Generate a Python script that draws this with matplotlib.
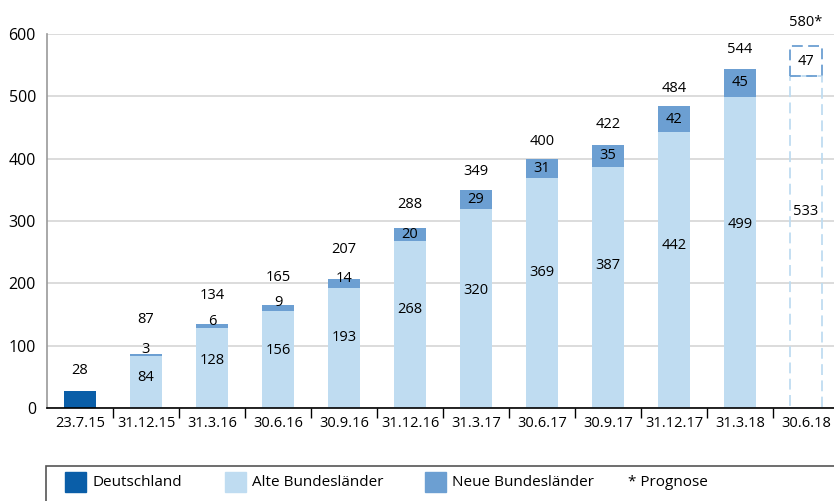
import numpy as np
import matplotlib
matplotlib.use("Agg")
import matplotlib.pyplot as plt
from matplotlib.patches import Rectangle

plt.rcParams["font.family"] = ["Open Sans", "DejaVu Sans"]

# Daten
stichtage = ["23.7.15", "31.12.15", "31.3.16", "30.6.16", "30.9.16", "31.12.16",
             "31.3.17", "30.6.17", "30.9.17", "31.12.17", "31.3.18", "30.6.18"]
deutschland = [28, 0, 0, 0, 0, 0, 0, 0, 0, 0, 0, 0]
alte_laender = [0, 84, 128, 156, 193, 268, 320, 369, 387, 442, 499, 533]
neue_laender = [0, 3, 6, 9, 14, 20, 29, 31, 35, 42, 45, 47]
gesamt = [28, 87, 134, 165, 207, 288, 349, 400, 422, 484, 544, 580]
prognose = [False] * 11 + [True]
legende = ["Deutschland", "Alte Bundesländer", "Neue Bundesländer", "* Prognose"]
yticks = [0, 100, 200, 300, 400, 500, 600]

# Farben / Layout
c_de = "#0a5ea8"
c_alt = "#bfdcf1"
c_neu = "#6c9fd2"
breite = 0.47
abstand_summe = [20, 34, 29, 28, 29, 24, 19, 17, 20, 18, 19, 24]  # Pixel über Balken

fig = plt.figure(figsize=(8.34, 5.01), dpi=100)
ax = fig.add_axes([47 / 834, 1 - 408 / 501, 792 / 834, 374 / 501])

x = np.arange(len(stichtage))
strich = (0, (6, 3))

for i in x:
    if prognose[i]:
        ax.add_patch(Rectangle((i - breite / 2, 0), breite, alte_laender[i],
                               fill=False, edgecolor=c_alt, linestyle=strich, lw=1.3))
        ax.add_patch(Rectangle((i - breite / 2, alte_laender[i]), breite, neue_laender[i],
                               fill=False, edgecolor=c_neu, linestyle=strich, lw=1.3))
    else:
        ax.bar(i, deutschland[i], breite, color=c_de)
        ax.bar(i, alte_laender[i], breite, color=c_alt)
        ax.bar(i, neue_laender[i], breite, bottom=alte_laender[i], color=c_neu)

# Beschriftungen
for i in x:
    txt = f"{gesamt[i]}*" if prognose[i] else f"{gesamt[i]}"
    ax.annotate(txt, (i, gesamt[i]), xytext=(0, abstand_summe[i]), textcoords="offset pixels",
                ha="center", va="center", fontsize=10.5, annotation_clip=False)
    if alte_laender[i] > 0:
        ax.text(i, alte_laender[i] * 0.59, str(alte_laender[i]), ha="center", va="center",
                fontsize=10.5)
    if neue_laender[i] > 0:
        versatz = 5 if neue_laender[i] < 15 else 0
        ax.annotate(str(neue_laender[i]), (i, alte_laender[i] + neue_laender[i] / 2),
                    xytext=(0, versatz), textcoords="offset pixels",
                    ha="center", va="center", fontsize=10.5)

ax.set_xlim(-0.5, len(stichtage) - 0.5)
ax.set_ylim(0, 600)
ax.set_yticks(yticks)
ax.tick_params(axis="y", length=0, labelsize=11.5, pad=8)
ax.yaxis.grid(True, color="#d9d9d9", lw=1.3)
ax.set_axisbelow(True)

ax.set_xticks(x)
ax.set_xticklabels(stichtage, fontsize=10.5)
ax.set_xticks(np.arange(0.5, len(stichtage) - 0.5), minor=True)
ax.tick_params(axis="x", which="major", length=0, pad=6)
ax.tick_params(axis="x", which="minor", length=7, width=1, color="black", direction="out")

for s in ["top", "right"]:
    ax.spines[s].set_visible(False)
ax.spines["left"].set_color("#999999")
ax.spines["left"].set_linewidth(1.2)
ax.spines["bottom"].set_color("black")
ax.spines["bottom"].set_linewidth(1.2)

# Legende
fig.add_artist(Rectangle((46 / 834, -0.05), 800 / 834, (501 - 466) / 501 + 0.05,
                         transform=fig.transFigure, fill=False, edgecolor="#555555", lw=1.2))
farben = [c_de, c_alt, c_neu, None]
pos_x = [65, 225, 425, 628]
for lab, farbe, px in zip(legende, farben, pos_x):
    if farbe:
        fig.add_artist(Rectangle((px / 834, 1 - 492 / 501), 21 / 834, 20 / 501,
                                 transform=fig.transFigure, color=farbe))
        fig.text((px + 27) / 834, 1 - 483 / 501, lab, fontsize=11, va="center")
    else:
        fig.text(px / 834, 1 - 483 / 501, lab, fontsize=11, va="center")

fig.savefig("out.png", dpi=100)
